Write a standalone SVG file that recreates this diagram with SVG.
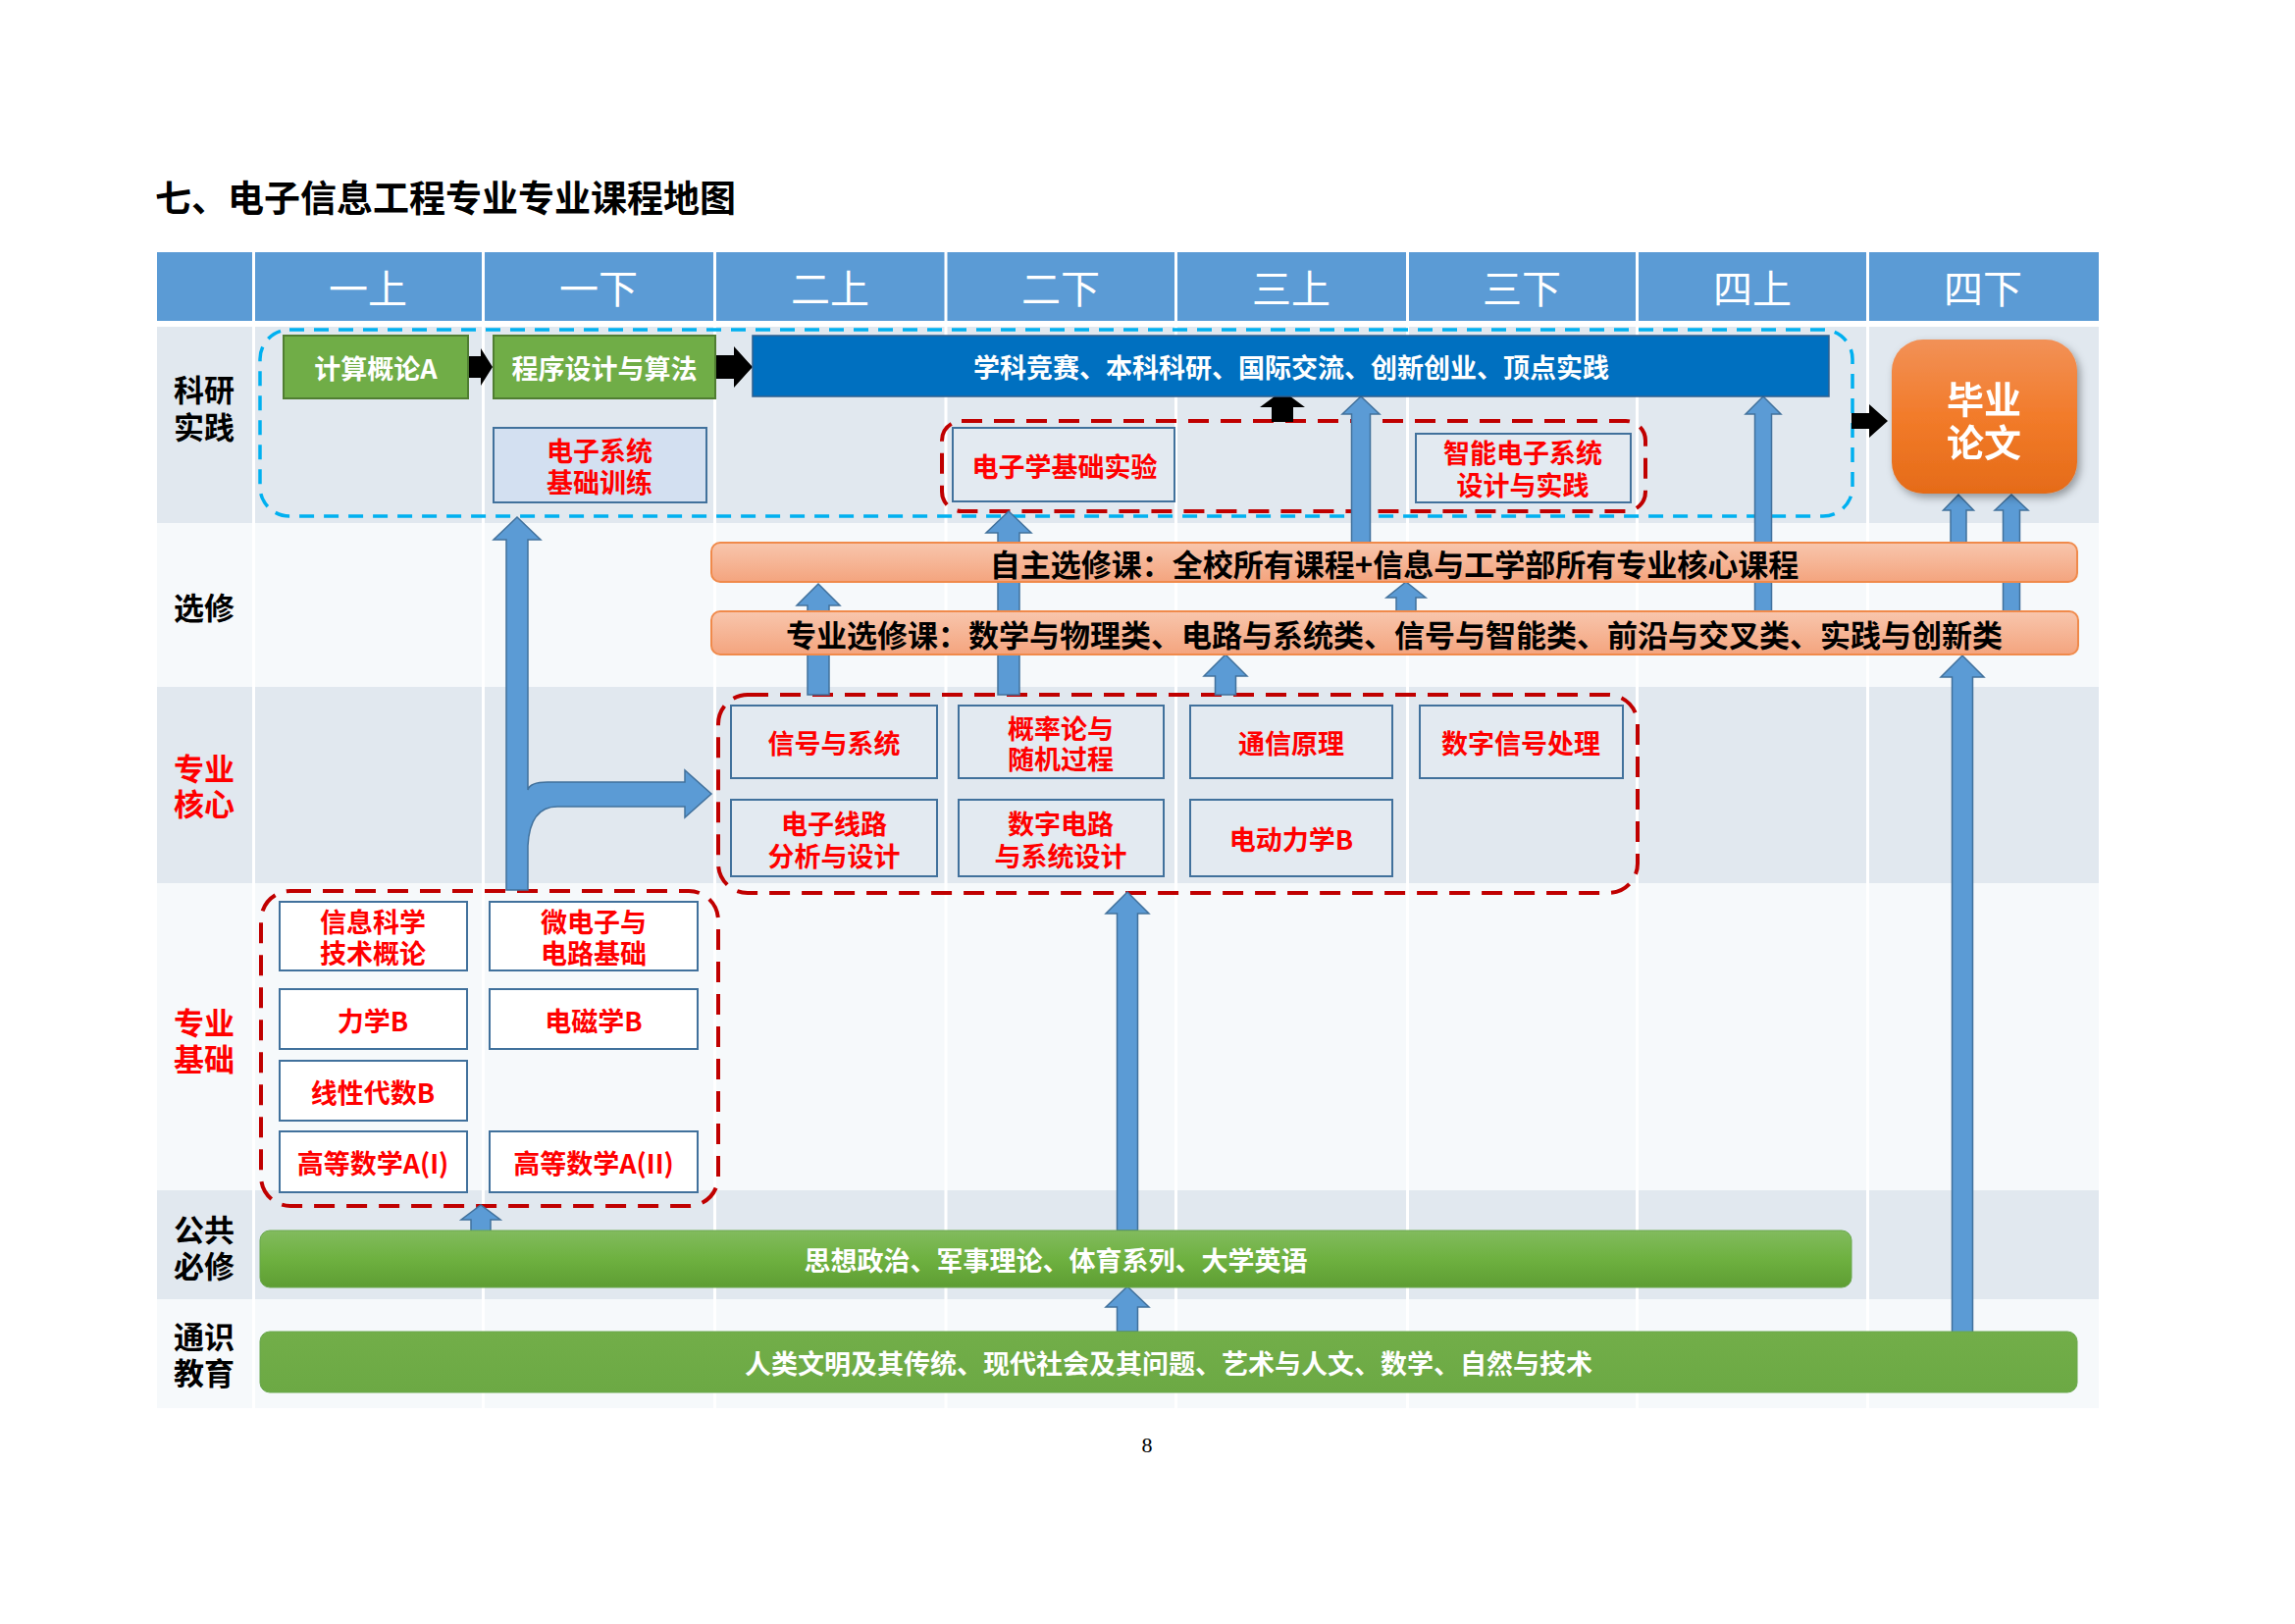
<svg xmlns="http://www.w3.org/2000/svg" width="2339" height="1655" viewBox="0 0 2339 1655">
<defs>
<style>
.t{font-family:"Noto Sans CJK SC","Noto Sans",sans-serif;text-anchor:middle;dominant-baseline:central}
.b{font-weight:700}
.w{fill:#fff}
.r{fill:#FF0000}
.k{fill:#000}
.hd{font-size:40px;fill:#fff}
.lb{font-size:31px;font-weight:700}
.f27{font-size:27px}
.f31{font-size:31px}
.box{fill:#E3EAF1;stroke:#41719C;stroke-width:2}
.boxw{fill:#FFFFFF;stroke:#41719C;stroke-width:2}
.boxb{fill:#D3E0F1;stroke:#41719C;stroke-width:2}
.grn{fill:#70AD47;stroke:#507E32;stroke-width:2}
.arr{fill:#5B9BD5;stroke:#41719C;stroke-width:1.5}
.blk{fill:#000}
.rd{fill:none;stroke:#C00000;stroke-width:4;stroke-dasharray:21 12}
.bd{fill:none;stroke:#00B0F0;stroke-width:3.5;stroke-dasharray:15 10}
.obar{fill:url(#og);stroke:#F08A4B;stroke-width:2}
.vl{stroke:#FFFFFF;stroke-width:3}
</style>
<linearGradient id="og" x1="0" y1="0" x2="0" y2="1">
<stop offset="0" stop-color="#F8C6AD"/>
<stop offset="1" stop-color="#F4A47E"/>
</linearGradient>
<linearGradient id="gg" x1="0" y1="0" x2="0" y2="1">
<stop offset="0" stop-color="#82BB5E"/>
<stop offset="0.5" stop-color="#6EB140"/>
<stop offset="1" stop-color="#5E9D33"/>
</linearGradient>
<linearGradient id="gg2" x1="0" y1="0" x2="0" y2="1">
<stop offset="0" stop-color="#72AE49"/>
<stop offset="1" stop-color="#6CA944"/>
</linearGradient>
<linearGradient id="thg" x1="0" y1="0" x2="0" y2="1">
<stop offset="0" stop-color="#F29157"/>
<stop offset="0.5" stop-color="#F27B2A"/>
<stop offset="1" stop-color="#E56B18"/>
</linearGradient>
<filter id="sh" x="-20%" y="-20%" width="140%" height="140%">
<feDropShadow dx="3" dy="4" stdDeviation="4" flood-color="#000" flood-opacity="0.35"/>
</filter>
</defs>
<rect x="0" y="0" width="2339" height="1655" fill="#FFFFFF"/>

<text class="t b k" x="158" y="200" style="font-size:37px;text-anchor:start">七、电子信息工程专业专业课程地图</text>

<g id="grid">
<rect x="160" y="257" width="1979" height="70" fill="#5B9BD5"/>
<rect x="160" y="333" width="1979" height="200" fill="#E1E8EF"/>
<rect x="160" y="533" width="1979" height="167" fill="#F6F9FB"/>
<rect x="160" y="700" width="1979" height="200" fill="#E1E8EF"/>
<rect x="160" y="900" width="1979" height="313" fill="#F6F9FB"/>
<rect x="160" y="1213" width="1979" height="111" fill="#E1E8EF"/>
<rect x="160" y="1324" width="1979" height="111" fill="#F6F9FB"/>
<g class="vl">
<line x1="258.5" y1="257" x2="258.5" y2="1435"/>
<line x1="492.5" y1="257" x2="492.5" y2="1435"/>
<line x1="728.5" y1="257" x2="728.5" y2="1435"/>
<line x1="964" y1="257" x2="964" y2="1435"/>
<line x1="1198.5" y1="257" x2="1198.5" y2="1435"/>
<line x1="1434.5" y1="257" x2="1434.5" y2="1435"/>
<line x1="1668.5" y1="257" x2="1668.5" y2="1435"/>
<line x1="1903.5" y1="257" x2="1903.5" y2="1435"/>
</g>
<text class="t hd" x="375" y="292">一上</text>
<text class="t hd" x="610" y="292">一下</text>
<text class="t hd" x="846" y="292">二上</text>
<text class="t hd" x="1081" y="292">二下</text>
<text class="t hd" x="1316" y="292">三上</text>
<text class="t hd" x="1551" y="292">三下</text>
<text class="t hd" x="1786" y="292">四上</text>
<text class="t hd" x="2021" y="292">四下</text>
<text class="t lb k" x="208" y="395">科研<tspan x="208" dy="38">实践</tspan></text>
<text class="t lb k" x="208" y="617">选修</text>
<text class="t lb r" x="208" y="781">专业<tspan x="208" dy="36">核心</tspan></text>
<text class="t lb r" x="208" y="1040">专业<tspan x="208" dy="37">基础</tspan></text>
<text class="t lb k" x="208" y="1251">公共<tspan x="208" dy="37">必修</tspan></text>
<text class="t lb k" x="208" y="1360">通识<tspan x="208" dy="37">教育</tspan></text>
</g>

<g id="containers">
<rect id="research-group" class="bd" x="265" y="336" width="1623" height="190" rx="30"/>
<rect id="lab-group" class="rd" x="960" y="429" width="717" height="92" rx="20"/>
<rect id="core-group" class="rd" x="732" y="708" width="937" height="202" rx="30"/>
<rect id="basic-group" class="rd" x="266" y="908" width="466" height="321" rx="30"/>
</g>

<g id="connectors">
<path class="arr" d="M823,708 L823,617 L812,617 L834,595 L856,617 L845,617 L845,708 Z"/>
<path class="arr" d="M1017,708 L1017,543 L1005,543 L1028,521 L1051,543 L1039,543 L1039,708 Z"/>
<path class="arr" d="M1238.5,708 L1238.5,689 L1227,689 L1249,667 L1271,689 L1259.5,689 L1259.5,708 Z"/>
<path class="arr" d="M1423,624 L1423,609 L1413,609 L1433,593 L1453,609 L1443,609 L1443,624 Z"/>
<path class="arr" d="M1377.5,553 L1377.5,422 L1368,422 L1387,404 L1406,422 L1396.5,422 L1396.5,553 Z"/>
<path class="arr" d="M1788.5,623 L1788.5,422 L1779,422 L1797,404 L1815,422 L1805.5,422 L1805.5,623 Z"/>
<path class="arr" d="M1988,553 L1988,520 L1980.5,520 L1996,504 L2011.5,520 L2004,520 L2004,553 Z"/>
<path class="arr" d="M2041.5,623 L2041.5,520 L2033,520 L2050,504 L2067,520 L2058.5,520 L2058.5,623 Z"/>
<path class="arr" d="M1989.5,1358 L1989.5,690 L1978,690 L2000,668 L2022,690 L2010.5,690 L2010.5,1358 Z"/>
<path class="arr" d="M1138.5,1357 L1138.5,1332 L1127,1332 L1149,1311 L1171,1332 L1159.5,1332 L1159.5,1357 Z"/>
<path class="arr" d="M1138.5,1254 L1138.5,931 L1127,931 L1149,909 L1171,931 L1159.5,931 L1159.5,1254 Z"/>
<path class="arr" d="M480,1258 L480,1243 L470,1243 L490,1228 L510,1243 L500,1243 L500,1258 Z"/>
<path class="arr" d="M516,907 L516,550 L503,550 L527,527 L551,550 L538,550 L538,805 Q540,797 558,797 L698,797 L698,785 L725,809 L698,833 L698,822 L568,822 Q540,822 538,862 L538,907 Z"/>
<path class="blk" d="M477,363 L490,363 L490,355 L502,374 L490,393 L490,385 L477,385 Z"/>
<path class="blk" d="M729,362 L748,362 L748,353 L767,374 L748,395 L748,386 L729,386 Z"/>
<path class="blk" d="M1887,421 L1905,421 L1905,412 L1924,429 L1905,446 L1905,437 L1887,437 Z"/>
<path class="blk" d="M1296,430 L1296,415 L1284,415 L1307,398 L1330,415 L1318,415 L1318,430 Z"/>
</g>

<g id="n-jisuan">
<rect class="grn" x="289" y="342" width="188" height="64"/>
<text class="t b w f27" x="383" y="374">计算概论A</text>
</g>
<g id="n-chengxu">
<rect class="grn" x="503" y="342" width="226" height="64"/>
<text class="t b w f27" x="616" y="374">程序设计与算法</text>
</g>
<g id="n-practice">
<rect x="767" y="342" width="1097" height="62" fill="#0070C0" stroke="#2F5F8F" stroke-width="1.5"/>
<text class="t b w f27" x="1316" y="373">学科竞赛、本科科研、国际交流、创新创业、顶点实践</text>
</g>
<g id="n-dianzixitong">
<rect class="boxb" x="503" y="436" width="217" height="76"/>
<text class="t b r f27" x="611" y="458">电子系统<tspan x="611" dy="32">基础训练</tspan></text>
</g>
<g id="n-dianzixue">
<rect class="box" x="971" y="436" width="226" height="75"/>
<text class="t b r f27" x="1085" y="474">电子学基础实验</text>
</g>
<g id="n-zhineng">
<rect class="box" x="1443" y="442" width="219" height="70"/>
<text class="t b r f27" x="1552" y="460">智能电子系统<tspan x="1552" dy="33">设计与实践</tspan></text>
</g>
<g id="n-thesis" filter="url(#sh)">
<rect x="1928" y="346" width="189" height="157" rx="32" fill="url(#thg)"/>
<text class="t b w" x="2022" y="404" style="font-size:38px">毕业<tspan x="2022" dy="44">论文</tspan></text>
</g>
<g id="n-zizhu">
<rect class="obar" x="725" y="553" width="1392" height="40" rx="9"/>
<text class="t b k f31" x="1421" y="573">自主选修课：全校所有课程+信息与工学部所有专业核心课程</text>
</g>
<g id="n-zhuanxuan">
<rect class="obar" x="725" y="623" width="1393" height="44" rx="9"/>
<text class="t b k f31" x="1421" y="645">专业选修课：数学与物理类、电路与系统类、信号与智能类、前沿与交叉类、实践与创新类</text>
</g>

<g id="n-xinhao">
<rect class="box" x="745" y="719" width="210" height="74"/>
<text class="t b r f27" x="850" y="756">信号与系统</text>
</g>
<g id="n-gailv">
<rect class="box" x="977" y="719" width="209" height="74"/>
<text class="t b r f27" x="1081" y="741">概率论与<tspan x="1081" dy="31">随机过程</tspan></text>
</g>
<g id="n-tongxin">
<rect class="box" x="1213" y="719" width="206" height="74"/>
<text class="t b r f27" x="1316" y="756">通信原理</text>
</g>
<g id="n-shuzixinhao">
<rect class="box" x="1447" y="719" width="207" height="74"/>
<text class="t b r f27" x="1550" y="756">数字信号处理</text>
</g>
<g id="n-dianzixianlu">
<rect class="box" x="745" y="815" width="210" height="78"/>
<text class="t b r f27" x="850" y="838">电子线路<tspan x="850" dy="33">分析与设计</tspan></text>
</g>
<g id="n-shuzidianlu">
<rect class="box" x="977" y="815" width="209" height="78"/>
<text class="t b r f27" x="1081" y="838">数字电路<tspan x="1081" dy="33">与系统设计</tspan></text>
</g>
<g id="n-diandong">
<rect class="box" x="1213" y="815" width="206" height="78"/>
<text class="t b r f27" x="1316" y="854">电动力学B</text>
</g>

<g id="n-xinxikexue">
<rect class="boxw" x="285" y="919" width="191" height="70"/>
<text class="t b r f27" x="380" y="938">信息科学<tspan x="380" dy="32">技术概论</tspan></text>
</g>
<g id="n-weidianzi">
<rect class="boxw" x="499" y="919" width="212" height="70"/>
<text class="t b r f27" x="605" y="938">微电子与<tspan x="605" dy="32">电路基础</tspan></text>
</g>
<g id="n-lixue">
<rect class="boxw" x="285" y="1008" width="191" height="61"/>
<text class="t b r f27" x="380" y="1039">力学B</text>
</g>
<g id="n-dianci">
<rect class="boxw" x="499" y="1008" width="212" height="61"/>
<text class="t b r f27" x="605" y="1039">电磁学B</text>
</g>
<g id="n-xiandai">
<rect class="boxw" x="285" y="1081" width="191" height="61"/>
<text class="t b r f27" x="380" y="1112">线性代数B</text>
</g>
<g id="n-gaoshu1">
<rect class="boxw" x="285" y="1153" width="191" height="62"/>
<text class="t b r f27" x="380" y="1184">高等数学A(I)</text>
</g>
<g id="n-gaoshu2">
<rect class="boxw" x="499" y="1153" width="212" height="62"/>
<text class="t b r f27" x="605" y="1184">高等数学A(II)</text>
</g>

<g id="n-gonggong">
<rect x="265" y="1254" width="1622" height="58" rx="10" fill="url(#gg)" stroke="#6AA84F" stroke-width="1"/>
<text class="t b w f27" x="1076" y="1283">思想政治、军事理论、体育系列、大学英语</text>
</g>
<g id="n-tongshi">
<rect x="265" y="1357" width="1852" height="62" rx="10" fill="url(#gg2)" stroke="#6AA84F" stroke-width="1"/>
<text class="t b w f27" x="1191" y="1388">人类文明及其传统、现代社会及其问题、艺术与人文、数学、自然与技术</text>
</g>

<text x="1169" y="1480" style="font-family:'Liberation Serif',serif;font-size:22px;text-anchor:middle" fill="#000">8</text>
</svg>
